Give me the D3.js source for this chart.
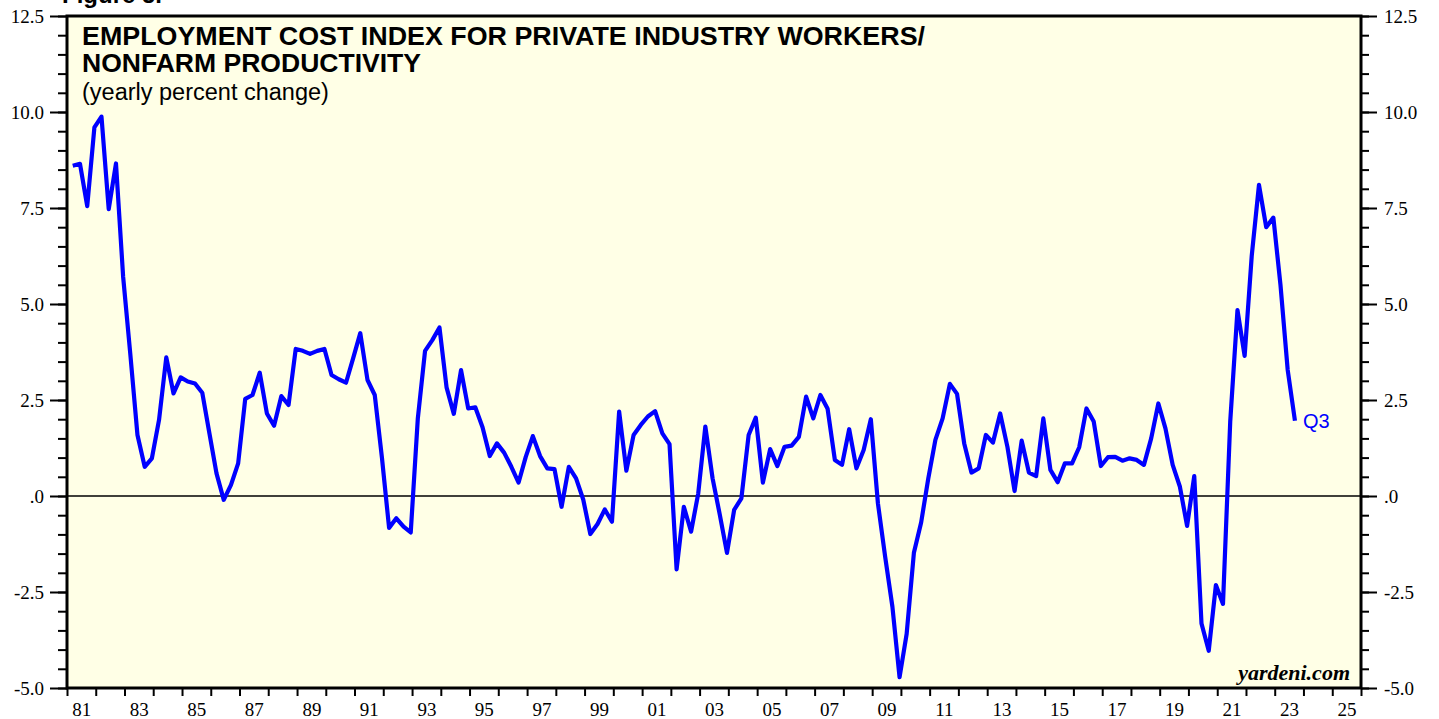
<!DOCTYPE html>
<html lang="en">
<head>
    <meta charset="UTF-8">
    <title>Employment Cost Index / Nonfarm Productivity</title>
    <script src="https://d3js.org/d3.v7.min.js"></script>
    <style>
        body {
            margin: 0;
            padding: 0;
            background-color: #ffffff;
        }
        svg { display: block; }
        .tick text {
            font-family: "Liberation Serif", "Times New Roman", serif;
            font-size: 19px;
            fill: #000;
        }
        .tick line { stroke: #000; stroke-width: 2; }
        .domain { display: none; }
    </style>
</head>
<body>
    <div id="chart"></div>

    <script>
        // Quarterly data, 1981 Q1 .. 2023 Q3 (yearly percent change)
        const startYear = 1981;
        const values = [
            8.60, 8.65, 7.55, 9.60,   // 1981
            9.88, 7.47, 8.66, 5.71,   // 1982
            3.72, 1.59, 0.76, 0.98,   // 1983
            1.98, 3.61, 2.67, 3.09,   // 1984
            2.98, 2.93, 2.69, 1.63,   // 1985
            0.59, -0.10, 0.29, 0.85,  // 1986
            2.53, 2.63, 3.21, 2.15,   // 1987
            1.83, 2.60, 2.37, 3.83,   // 1988
            3.78, 3.70, 3.78, 3.83,   // 1989
            3.15, 3.04, 2.95, 3.59,   // 1990
            4.24, 3.02, 2.63, 1.00,   // 1991
            -0.83, -0.58, -0.80, -0.95, // 1992
            2.02, 3.78, 4.06, 4.39,   // 1993
            2.83, 2.14, 3.28, 2.28,   // 1994
            2.31, 1.79, 1.04, 1.37,   // 1995
            1.13, 0.76, 0.35, 1.02,   // 1996
            1.56, 1.04, 0.72, 0.70,   // 1997
            -0.28, 0.76, 0.46, -0.09, // 1998
            -0.99, -0.73, -0.35, -0.67, // 1999
            2.20, 0.66, 1.59, 1.85,   // 2000
            2.07, 2.21, 1.63, 1.35,   // 2001
            -1.91, -0.28, -0.93, 0.07, // 2002
            1.81, 0.46, -0.49, -1.48, // 2003
            -0.36, -0.06, 1.59, 2.04, // 2004
            0.35, 1.22, 0.78, 1.28,   // 2005
            1.31, 1.54, 2.59, 2.02,   // 2006
            2.63, 2.27, 0.94, 0.81,   // 2007
            1.74, 0.72, 1.20, 2.00,   // 2008
            -0.19, -1.58, -2.88, -4.72, // 2009
            -3.59, -1.48, -0.69, 0.46, // 2010
            1.46, 2.02, 2.92, 2.66,   // 2011
            1.37, 0.61, 0.72, 1.59,   // 2012
            1.39, 2.15, 1.28, 0.13,   // 2013
            1.44, 0.61, 0.52, 2.02,   // 2014
            0.68, 0.36, 0.85, 0.85,   // 2015
            1.27, 2.28, 1.94, 0.78,   // 2016
            1.01, 1.02, 0.92, 0.98,   // 2017
            0.94, 0.81, 1.50, 2.41,   // 2018
            1.76, 0.81, 0.24, -0.78,  // 2019
            0.52, -3.32, -4.03, -2.32, // 2020
            -2.81, 1.94, 4.84, 3.65,  // 2021
            6.25, 8.10, 7.00, 7.25,   // 2022
            5.50, 3.28, 1.96          // 2023
        ];
        const yTicks = [-5, -2.5, 0, 2.5, 5, 7.5, 10, 12.5];
        const xTickLabels = ["81", "83", "85", "87", "89", "91", "93", "95", "97", "99",
                             "01", "03", "05", "07", "09", "11", "13", "15", "17", "19",
                             "21", "23", "25"];
        const lastLabel = "Q3";

        const data = values.map((v, i) => ({
            date: new Date(startYear + Math.floor(i / 4), (i % 4) * 3 + 2, 15),
            value: v
        }));

        const margin = { top: 16, right: 78, bottom: 31, left: 67 };
        const W = 1439, H = 719;
        const width = W - margin.left - margin.right;
        const height = H - margin.top - margin.bottom;

        const root = d3.select("#chart").append("svg")
            .attr("width", W)
            .attr("height", H);

        // heading that is cut off at the very top of the picture
        root.append("text")
            .attr("x", 62)
            .attr("y", 3)
            .style("font-family", "'Liberation Sans', Arial, sans-serif")
            .style("font-weight", "bold")
            .style("font-size", "24px")
            .text("Figure 5.");

        const svg = root.append("g")
            .attr("transform", `translate(${margin.left},${margin.top})`);

        const x = d3.scaleTime()
            .domain([new Date(1981, 0, 1), new Date(2026, 0, 1)])
            .range([0, width]);

        const y = d3.scaleLinear()
            .domain([-5, 12.5])
            .range([height, 0]);

        // plot background
        svg.append("rect")
            .attr("width", width)
            .attr("height", height)
            .attr("fill", "#ffffe6");

        // zero line
        svg.append("line")
            .attr("x1", 0).attr("x2", width)
            .attr("y1", y(0)).attr("y2", y(0))
            .attr("stroke", "#000")
            .attr("stroke-width", 1.3);

        const fmt = d => d === 0 ? ".0" : d.toFixed(1);
        const minorTicks = d3.range(-5, 12.51, 0.5);

        // left axis
        svg.append("g")
            .call(d3.axisLeft(y).tickValues(minorTicks).tickSize(9).tickFormat(""));
        svg.append("g")
            .call(d3.axisLeft(y).tickValues(yTicks).tickSize(17).tickPadding(6).tickFormat(fmt))
            .selectAll("text").attr("dy", "0.34em");

        // right axis
        svg.append("g")
            .attr("transform", `translate(${width},0)`)
            .call(d3.axisRight(y).tickValues(minorTicks).tickSize(8).tickFormat(""));
        svg.append("g")
            .attr("transform", `translate(${width},0)`)
            .call(d3.axisRight(y).tickValues(yTicks).tickSize(16).tickPadding(7).tickFormat(fmt))
            .selectAll("text").attr("dy", "0.34em");

        // bottom axis: yearly ticks, labels centred in odd years
        svg.append("g")
            .attr("transform", `translate(0,${height})`)
            .call(d3.axisBottom(x).ticks(d3.timeYear.every(1)).tickSize(8).tickFormat(""));

        const labelDates = xTickLabels.map(s => {
            const yr = +s < 50 ? 2000 + +s : 1900 + +s;
            return new Date(yr, 6, 2);
        });
        svg.append("g")
            .attr("transform", `translate(0,${height})`)
            .call(d3.axisBottom(x).tickValues(labelDates).tickSize(0).tickPadding(15)
                .tickFormat((d, i) => xTickLabels[i]))
            .selectAll("text").attr("dy", "0.71em");

        // frame
        svg.append("rect")
            .attr("width", width)
            .attr("height", height)
            .attr("fill", "none")
            .attr("stroke", "#000")
            .attr("stroke-width", 3);

        // series
        const line = d3.line()
            .x(d => x(d.date))
            .y(d => y(d.value));

        svg.append("path")
            .datum(data)
            .attr("fill", "none")
            .attr("stroke", "#0000ff")
            .attr("stroke-width", 4.2)
            .attr("stroke-linejoin", "round")
            .attr("d", line);

        const last = data[data.length - 1];
        svg.append("text")
            .attr("x", x(last.date) + 8)
            .attr("y", y(last.value) + 7)
            .attr("fill", "#0000ff")
            .style("font-family", "'Liberation Sans', Arial, sans-serif")
            .style("font-size", "20px")
            .text(lastLabel);

        // titles
        const title = svg.append("text")
            .style("font-family", "'Liberation Sans', Arial, sans-serif")
            .style("font-weight", "bold")
            .style("font-size", "26px");
        title.append("tspan").attr("x", 15).attr("y", 29)
            .attr("textLength", 843).attr("lengthAdjust", "spacingAndGlyphs")
            .text("EMPLOYMENT COST INDEX FOR PRIVATE INDUSTRY WORKERS/");
        title.append("tspan").attr("x", 15).attr("y", 56)
            .attr("textLength", 339).attr("lengthAdjust", "spacingAndGlyphs")
            .text("NONFARM PRODUCTIVITY");

        svg.append("text")
            .attr("x", 15)
            .attr("y", 84)
            .style("font-family", "'Liberation Sans', Arial, sans-serif")
            .style("font-size", "23.5px")
            .text("(yearly percent change)");

        svg.append("text")
            .attr("x", width - 11)
            .attr("y", height - 8)
            .attr("text-anchor", "end")
            .style("font-family", "'Liberation Serif', 'Times New Roman', serif")
            .style("font-weight", "bold")
            .style("font-style", "italic")
            .style("font-size", "22px")
            .text("yardeni.com");
    </script>
</body>
</html>
